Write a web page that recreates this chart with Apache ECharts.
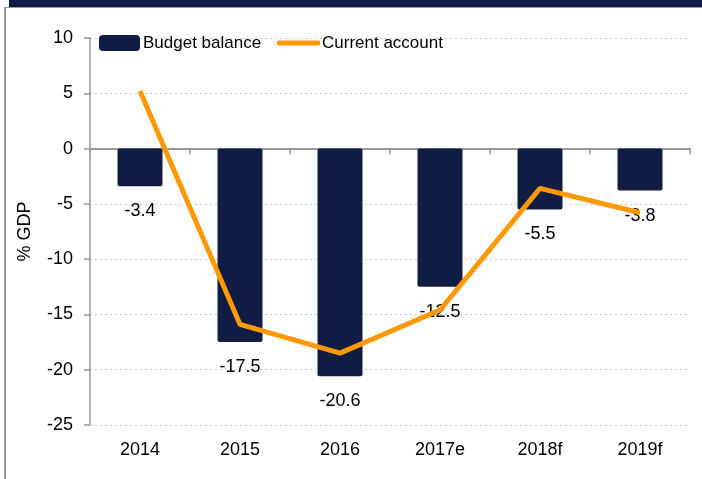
<!DOCTYPE html>
<html lang="en">
<head>
<meta charset="UTF-8">
<title>Budget balance and current account</title>
<script src="https://cdn.jsdelivr.net/npm/echarts@6/dist/echarts.min.js"></script>
<style>
  html, body { margin: 0; padding: 0; background: #fff; }
  #main { width: 702px; height: 479px; }
</style>
</head>
<body>
<div id="main"></div>
<script>
// data
const years = ['2014', '2015', '2016', '2017e', '2018f', '2019f'];
const budgetBalance = [-3.4, -17.5, -20.6, -12.5, -5.5, -3.8];
const currentAccount = [5.2, -15.9, -18.5, -14.6, -3.6, -5.8];

const navy = '#101c44';
const orange = '#ff9900';
const font = '"Liberation Sans", Arial, sans-serif';

let chart = echarts.init(document.getElementById('main'));
chart.setOption({
  animation: false,
  textStyle: { fontFamily: font },
  // frame: navy band on top, thin grey border on top and left
  graphic: [
    { type: 'rect', shape: { x: 9, y: 0, width: 693, height: 7 }, style: { fill: navy } },
    { type: 'line', shape: { x1: 4, y1: 7.5, x2: 702, y2: 7.5 }, style: { stroke: '#999', lineWidth: 1 } },
    { type: 'line', shape: { x1: 5, y1: 7, x2: 5, y2: 479 }, style: { stroke: '#999', lineWidth: 2 } }
  ],
  // two legends so each icon can have its own shape
  legend: [
    {
      left: 99, top: 34.5, padding: 0,
      itemWidth: 41, itemHeight: 16,
      textStyle: { fontSize: 17, color: '#000', fontFamily: font, padding: [0, 0, 0, -2] },
      data: [{ name: 'Budget balance', icon: 'roundRect' }]
    },
    {
      left: 277, top: 34.5, padding: 0,
      itemWidth: 43, itemHeight: 5,
      textStyle: { fontSize: 17, color: '#000', fontFamily: font, padding: [0, 0, 0, -3] },
      data: [{ name: 'Current account', icon: 'roundRect' }]
    }
  ],
  grid: { left: 90, right: 12, top: 38, bottom: 54 },
  xAxis: {
    type: 'category',
    data: years,
    axisLine: { onZero: true, lineStyle: { color: '#999', width: 2 } },
    axisTick: { show: true, length: 6, lineStyle: { color: '#999', width: 1.5 } },
    axisLabel: { fontSize: 18, color: '#000', margin: 16, fontFamily: font }
  },
  yAxis: {
    type: 'value',
    min: -25,
    max: 10,
    interval: 5,
    name: '% GDP',
    nameLocation: 'middle',
    nameRotate: 90,
    nameGap: 56,
    nameTextStyle: { fontSize: 18, color: '#000', fontFamily: font },
    axisLine: { show: true, lineStyle: { color: '#999', width: 1.5 } },
    axisTick: { show: true, length: 6, lineStyle: { color: '#999', width: 1.5 } },
    axisLabel: { fontSize: 18, color: '#000', margin: 17, fontFamily: font },
    splitLine: { show: true, lineStyle: { color: '#ccc', type: [2, 3], width: 1 } }
  },
  series: [
    {
      name: 'Budget balance',
      type: 'bar',
      data: budgetBalance,
      barWidth: 45,
      itemStyle: { color: navy, borderRadius: 2 },
      label: {
        show: true,
        position: 'bottom',
        distance: 16,
        fontSize: 18,
        color: '#000',
        fontFamily: font
      }
    },
    {
      name: 'Current account',
      type: 'line',
      data: currentAccount,
      symbol: 'none',
      lineStyle: { color: orange, width: 5 },
      itemStyle: { color: orange }
    }
  ]
});
</script>
</body>
</html>
